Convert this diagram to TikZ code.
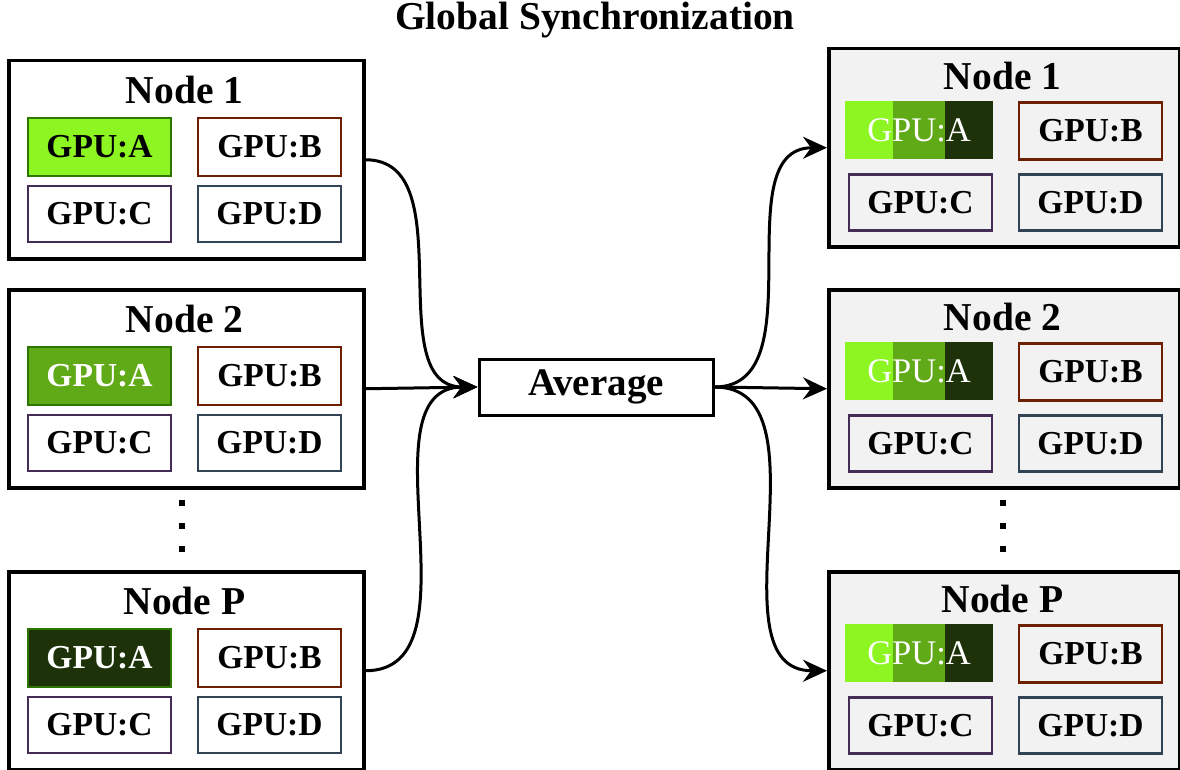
\documentclass[tikz,border=0pt]{standalone}
\usepackage{fontspec}
\setmainfont{Liberation Serif}
\usepackage{tikz}
\usetikzlibrary{arrows.meta, positioning, calc}

\definecolor{gpuLight}{HTML}{8CF522}
\definecolor{gpuMid}{HTML}{60A917}
\definecolor{gpuDark}{HTML}{1E3209}
\definecolor{gpuEdge}{HTML}{2D7600}
\definecolor{edgeB}{HTML}{6D1F00}
\definecolor{edgeC}{HTML}{432D57}
\definecolor{edgeD}{HTML}{314354}
\definecolor{boxGray}{HTML}{F2F2F2}

\tikzset{
  server/.style={draw, line width=3.5pt, minimum width=355pt, minimum height=198pt, inner sep=0pt, anchor=north west},
  rserver/.style={server, fill=boxGray, minimum width=351pt},
  nodetitle/.style={font=\fontsize{39.5}{41}\selectfont\bfseries, inner sep=0pt},
  gpu/.style={draw, line width=2.5pt, minimum width=143pt, minimum height=57pt, inner sep=0pt, font=\fontsize{33.5}{35}\selectfont\bfseries},
  gpuA1/.style={gpu, draw=gpuEdge, fill=gpuLight},
  gpuA2/.style={gpu, draw=gpuEdge, fill=gpuMid, text=white},
  gpuAP/.style={gpu, draw=gpuEdge, fill=gpuDark, text=white},
  gpuB/.style={gpu, draw=edgeB},
  gpuC/.style={gpu, draw=edgeC},
  gpuD/.style={gpu, draw=edgeD},
  gpuAvg/.style={minimum width=148pt, minimum height=58pt, inner sep=0pt, text=white,
    font=\fontsize{34.5}{36}\selectfont,
    path picture={
      \fill[gpuLight] (path picture bounding box.south west) rectangle ($(path picture bounding box.north west)!0.325!(path picture bounding box.north east)$);
      \fill[gpuMid] ($(path picture bounding box.south west)!0.325!(path picture bounding box.south east)$) rectangle ($(path picture bounding box.north west)!0.676!(path picture bounding box.north east)$);
      \fill[gpuDark] ($(path picture bounding box.south west)!0.676!(path picture bounding box.south east)$) rectangle (path picture bounding box.north east);
    }},
  avgbox/.style={draw, line width=3pt, minimum width=234pt, minimum height=56pt, font=\fontsize{39}{41}\selectfont\bfseries},
  flow/.style={line width=3pt, -{Stealth[length=24pt, width=22pt, inset=8pt]}}
}

\begin{document}
\begin{tikzpicture}[x=1pt, y=-1pt]
\useasboundingbox (0,0) rectangle (1180,770);

\node[font=\fontsize{39.5}{41}\selectfont\bfseries, inner sep=0pt, anchor=base] (title) at (595,30) {Global Synchronization};

% nodes before averaging
\foreach \n/\y/\sty in {1/59/gpuA1, 2/288/gpuA2, P/570/gpuAP} {
    \node[server] (L\n) at (7,\y) {};
    \node[nodetitle] (L\n-t) at ($(L\n.north west)+(177.5,31)$) {Node \n};
    \node[\sty, minimum height=58pt] (L\n-a) at ($(L\n.north west)+(92.5,88)$) {GPU:A};
    \node[gpuB, minimum height=58pt] (L\n-b) at ($(L\n.north west)+(262.5,88)$) {GPU:B};
    \node[gpuC, minimum height=56pt] (L\n-c) at ($(L\n.north west)+(92.5,155)$) {GPU:C};
    \node[gpuD, minimum height=56pt] (L\n-d) at ($(L\n.north west)+(262.5,155)$) {GPU:D};
}

% nodes after averaging
\foreach \n/\y in {1/47, 2/288, P/570} {
    \node[rserver] (R\n) at (827,\y) {};
    \node[nodetitle] (R\n-t) at ($(R\n.north west)+(175.5,29)$) {Node \n};
    \node[gpuAvg] (R\n-a) at ($(R\n.north west)+(92,83)$) {GPU:A};
    \node[gpuB] (R\n-b) at ($(R\n.north west)+(263.5,84)$) {GPU:B};
    \node[gpuC, minimum height=56pt] (R\n-c) at ($(R\n.north west)+(93.5,155.5)$) {GPU:C};
    \node[gpuD, minimum height=56pt] (R\n-d) at ($(R\n.north west)+(263.5,155.5)$) {GPU:D};
}

\node[avgbox] (avg) at (596,387) {Average};

% vertical dots
\foreach \y in {503,526,549} {
    \fill (179,{\y-3}) rectangle ++(6,6);
    \fill (1000,{\y-3}) rectangle ++(6,6);
}

\draw[flow] (L1.east) to[out=0, in=180] (avg.west);
\draw[flow] (L2.east) -- (avg.west);
\draw[flow] (LP.east) to[out=0, in=180] (avg.west);
\draw[flow] (avg.east) to[out=0, in=180] (R1.west);
\draw[flow] (avg.east) -- (R2.west);
\draw[flow] (avg.east) to[out=0, in=180] (RP.west);
\end{tikzpicture}
\end{document}
